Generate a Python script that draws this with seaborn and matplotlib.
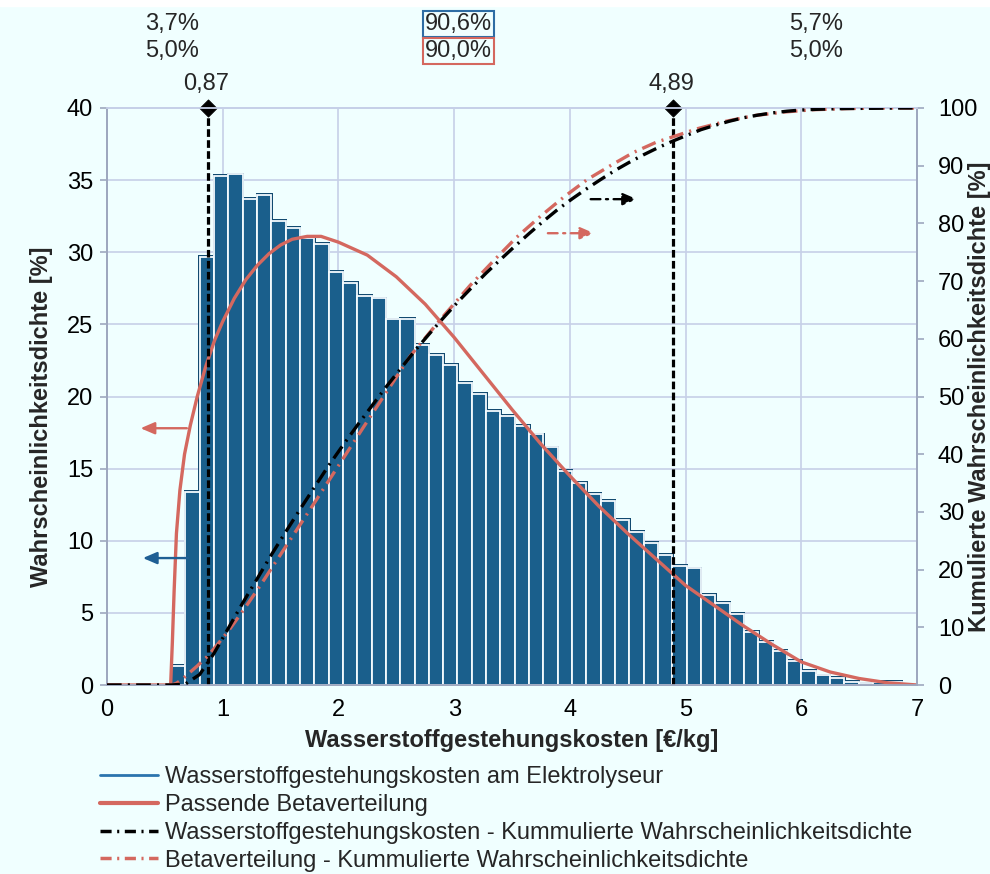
import numpy as np
import pandas as pd
import matplotlib
matplotlib.use("Agg")
import matplotlib.pyplot as plt
import seaborn as sns
from matplotlib.lines import Line2D
from matplotlib.patches import Rectangle

# ---------------- data ----------------
bin_start = 0.553          # left edge of first histogram bin [€/kg]
bin_width = 0.1238         # histogram bin width [€/kg]
hist_density = [1.35, 13.4, 29.7, 35.3, 35.4, 33.7, 34.0, 32.2, 31.7, 31.0,
                30.6, 28.65, 27.9, 26.97, 26.8, 25.35, 25.4, 23.57, 22.9, 22.2,
                20.96, 20.2, 19.0, 18.65, 17.95, 17.38, 16.48, 14.86, 14.03, 13.24,
                12.78, 11.44, 10.63, 9.87, 9.01, 8.25, 8.09, 6.27, 5.68, 4.92,
                3.7, 3.0, 2.35, 1.65, 0.97, 0.66, 0.48, 0.21, 0.12, 0.22, 0.2]

beta_pdf_x = [0, 0.55, 0.565, 0.58, 0.60, 0.63, 0.67, 0.72, 0.78, 0.85, 0.93,
              1.0, 1.1, 1.2, 1.3, 1.4, 1.5, 1.6, 1.73, 1.85, 2.0, 2.25, 2.5, 2.75,
              3.0, 3.25, 3.5, 3.75, 4.0, 4.25, 4.5, 4.75, 5.0, 5.25, 5.5, 5.75,
              6.0, 6.25, 6.5, 6.75, 7.0]
beta_pdf_y = [0, 0, 3.0, 6.5, 10.5, 13.5, 16.0, 18.0, 20.0, 22.0, 23.9,
              25.2, 26.8, 28.1, 29.1, 29.9, 30.5, 30.9, 31.1, 31.1, 30.7, 29.8, 28.3, 26.4,
              24.1, 21.6, 19.1, 16.7, 14.5, 12.4, 10.5, 8.7, 6.9, 5.5, 4.1, 2.8,
              1.6, 0.9, 0.45, 0.15, 0]

beta_cdf_x = [0, 0.56, 0.60, 0.65, 0.70, 0.78, 0.87, 0.95, 1.05, 1.18, 1.31, 1.47,
              1.64, 1.80, 2.00, 2.22, 2.39, 2.62, 2.88, 3.14, 3.34, 3.54, 3.75, 3.95,
              4.15, 4.35, 4.55, 4.75, 4.89, 5.10, 5.35, 5.60, 5.85, 6.10, 6.40, 6.70,
              7.00]
beta_cdf_y = [0, 0, 0.3, 1.0, 1.9, 3.3, 5.0, 6.9, 9.4, 13.0, 16.8, 21.7,
              26.9, 31.8, 38.0, 44.8, 50.0, 57.0, 63.3, 69.3, 73.5, 77.6, 81.3, 84.6,
              87.6, 90.0, 92.3, 94.1, 95.0, 96.4, 97.7, 98.7, 99.3, 99.7, 99.9, 100,
              100]

quantiles = [0.87, 4.89]
hist_shares = [3.7, 90.6, 5.7]
beta_shares = [5.0, 90.0, 5.0]

x_ticks = [0, 1, 2, 3, 4, 5, 6, 7]
y_left_ticks = [0, 5, 10, 15, 20, 25, 30, 35, 40]
y_right_ticks = [0, 10, 20, 30, 40, 50, 60, 70, 80, 90, 100]

xlabel = "Wasserstoffgestehungskosten [€/kg]"
ylabel_left = "Wahrscheinlichkeitsdichte [%]"
ylabel_right = "Kumulierte Wahrscheinlichkeitsdichte [%]"
legend_labels = ["Wasserstoffgestehungskosten am Elektrolyseur",
                 "Passende Betaverteilung",
                 "Wasserstoffgestehungskosten - Kummulierte Wahrscheinlichkeitsdichte",
                 "Betaverteilung - Kummulierte Wahrscheinlichkeitsdichte"]

# ---------------- style ----------------
BG = "#F0FFFF"
BLUE = "#1A5F8C"
BLUE_DARK = "#124A70"
BLUE_LINE = "#2B74AE"
RED = "#D4685F"
GRID = "#C6D0E8"
SPINE = "#9EA8BF"
FS = 17

sns.set_theme(style="white")
plt.rcParams["font.family"] = ["Liberation Sans", "DejaVu Sans"]
plt.rcParams["lines.scale_dashes"] = False

W, H = 990, 874
fig = plt.figure(figsize=(W / 100, H / 100), dpi=100, facecolor=BG)
fig.patches.append(Rectangle((0, 1 - 6 / H), 1, 6 / H, transform=fig.transFigure,
                             color="white", zorder=0))
ax = fig.add_axes([107 / W, 1 - 685 / H, 810 / W, 577 / H])
ax.set_facecolor(BG)

n = len(hist_density)
edges = [bin_start + bin_width * i for i in range(n + 1)]
hist_df = pd.DataFrame({"cost": [(edges[i] + edges[i + 1]) / 2 for i in range(n)],
                        "density": hist_density})

# shadow layer (slightly wider / taller dark bars)
sns.histplot(data=hist_df, x="cost", weights="density", bins=edges, ax=ax,
             color=BLUE_DARK, alpha=1, linewidth=0, zorder=2)
for p in ax.patches:
    p.set_x(p.get_x() - 0.012)
    p.set_width(p.get_width() + 0.024)
    p.set_height(p.get_height() + 0.12 if p.get_height() > 0 else 0)
# main bars
sns.histplot(data=hist_df, x="cost", weights="density", bins=edges, ax=ax,
             color=BLUE, alpha=1, edgecolor="#F4FBFF", linewidth=1.3, zorder=3)

# fitted beta pdf
sns.lineplot(x=beta_pdf_x, y=beta_pdf_y, ax=ax, color=RED, lw=2.4, zorder=6,
             sort=False)

# quantile lines with diamonds
YMAX = y_left_ticks[-1]
for q in quantiles:
    ax.axvline(q, color="black", lw=2.3, ls=(0, (5.5, 2.4)), zorder=7)
sns.scatterplot(x=quantiles, y=[YMAX] * len(quantiles), ax=ax, marker="D", s=75,
                color="black", edgecolor="black", clip_on=False, zorder=9)

ax.set_xlim(x_ticks[0], x_ticks[-1])
ax.set_ylim(y_left_ticks[0], YMAX)
ax.set_xticks(x_ticks)
ax.set_yticks(y_left_ticks)
ax.grid(True, color=GRID, lw=1.2)
ax.set_axisbelow(True)
for s in ax.spines.values():
    s.set_color(SPINE)
    s.set_linewidth(1.3)
ax.spines["top"].set_color(GRID)
ax.tick_params(axis="both", direction="out", length=5, width=1.2, color=SPINE,
               labelsize=FS, pad=5, labelcolor="black")
ax.set_xlabel(xlabel, fontsize=FS, fontweight="bold")
ax.set_ylabel(ylabel_left, fontsize=FS, fontweight="bold")
ax.xaxis.set_label_coords(0.5, -0.097)
ax.xaxis.label.set_va("center")
ax.yaxis.set_label_coords(-0.081, 0.4645)
ax.yaxis.label.set_va("center")

# secondary axis: cumulative
ax2 = ax.twinx()
hist_cdf = np.cumsum(hist_density) * bin_width
hist_cdf = hist_cdf / hist_cdf[-1] * 100
cdf_x = np.concatenate([[x_ticks[0]], edges, [x_ticks[-1]]])
cdf_y = np.concatenate([[0, 0], hist_cdf, [100]])
DD = (10.5, 4.5, 1.5, 4.5)
sns.lineplot(x=beta_cdf_x, y=beta_cdf_y, ax=ax2, color=RED, lw=2.4, sort=False,
             zorder=5)
ax2.lines[-1].set_dashes(DD)
sns.lineplot(x=cdf_x, y=cdf_y, ax=ax2, color="black", lw=2.4, sort=False, zorder=6)
ax2.lines[-1].set_dashes(DD)
ax2.set_ylim(y_right_ticks[0], y_right_ticks[-1])
ax2.set_yticks(y_right_ticks)
ax2.grid(False)
for s in ax2.spines.values():
    s.set_color(SPINE)
    s.set_linewidth(1.3)
ax2.spines["top"].set_color(GRID)
ax2.tick_params(axis="y", direction="out", length=5, width=1.2, color=SPINE,
                labelsize=FS, pad=10, labelcolor="black")
ax2.set_ylabel(ylabel_right, fontsize=FS, fontweight="bold")
ax2.yaxis.set_label_coords(1.077, 0.5)
ax2.yaxis.label.set_va("center")
ax2.yaxis.label.set_rotation(90)

# arrows
def arrow(a, x0, x1, y, color, dashed):
    a.annotate("", xy=(x1, y), xytext=(x0, y),
               arrowprops=dict(arrowstyle="-|>,head_length=0.7,head_width=0.3",
                               color=color, lw=1.7, shrinkA=0, shrinkB=0,
                               linestyle=(0, (7, 4, 1.5, 4)) if dashed else "-"),
               zorder=8)

arrow(ax, 0.69, 0.29, 17.8, RED, False)
arrow(ax, 0.70, 0.31, 8.8, "#1F5F94", False)
arrow(ax2, 4.18, 4.58, 84.2, "black", True)
arrow(ax2, 3.81, 4.21, 78.3, RED, True)

# top annotations
def fmt(v, d):
    return f"{v:.{d}f}".replace(".", ",")

tr = ax.get_xaxis_transform()
share_x = [0.56, 3.04, 6.13]
for i, (hs, bs) in enumerate(zip(hist_shares, beta_shares)):
    kw1, kw2 = {}, {}
    if i == 1:
        kw1 = dict(bbox=dict(boxstyle="square,pad=0.08", fc="none", ec="#2E6DA4", lw=1.5))
        kw2 = dict(bbox=dict(boxstyle="square,pad=0.08", fc="none", ec=RED, lw=1.5))
    ax.text(share_x[i], 1.1456, fmt(hs, 1) + "%", transform=tr, ha="center",
            va="center", fontsize=FS, **kw1)
    ax.text(share_x[i], 1.0988, fmt(bs, 1) + "%", transform=tr, ha="center",
            va="center", fontsize=FS, **kw2)
for q in quantiles:
    ax.text(q - 0.01, 1.0416, fmt(q, 2), transform=tr, ha="center", va="center",
            fontsize=FS)

# legend
DDL = (8, 4, 1.5, 4)
handles = [Line2D([], [], color=BLUE_LINE, lw=2),
           Line2D([], [], color=RED, lw=3),
           Line2D([], [], color="black", lw=2.5, dashes=DDL),
           Line2D([], [], color=RED, lw=2.5, dashes=DDL)]
fig.legend(handles, legend_labels, loc="upper left",
           bbox_to_anchor=(100 / W, 1 - 766 / H), frameon=False, fontsize=FS,
           handlelength=2.45, handletextpad=0.3, labelspacing=0.25,
           borderaxespad=0, borderpad=0)

fig.savefig("out.png", dpi=100, facecolor=BG)
